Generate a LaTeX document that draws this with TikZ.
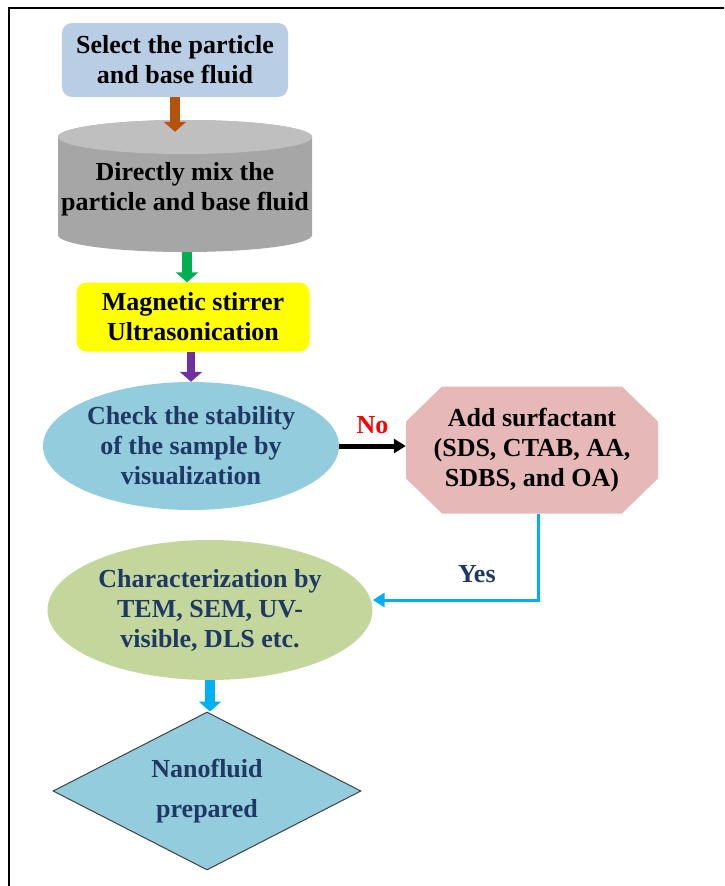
\documentclass[tikz,border=0pt]{standalone}
\usepackage{fontspec}
\setmainfont{Liberation Serif}
\usepackage{xcolor}
\usetikzlibrary{arrows.meta,positioning,shapes.geometric,calc}

\definecolor{selblue}{HTML}{B9CDE5}
\definecolor{cylbody}{HTML}{A6A6A6}
\definecolor{cyltop}{HTML}{BFBFBF}
\definecolor{stiryellow}{HTML}{FFFF00}
\definecolor{checkblue}{HTML}{93CDDD}
\definecolor{surfpink}{HTML}{E6B9B8}
\definecolor{charolive}{HTML}{C3D69B}
\definecolor{navy}{HTML}{1F3864}
\definecolor{arrbrown}{HTML}{B5520E}
\definecolor{arrgreen}{HTML}{00B050}
\definecolor{arrpurple}{HTML}{7030A0}
\definecolor{arrcyan}{HTML}{00B0F0}

\begin{document}
\begin{tikzpicture}[
      x=1pt, y=-1pt,
      every node/.style={font=\bfseries\fontsize{26}{30}\selectfont, align=center, inner sep=0pt},
      box/.style={rounded corners=10pt, minimum width=226pt, minimum height=74pt},
      cyl/.style={minimum width=254pt, minimum height=132pt,
                  path picture={
                    \path (path picture bounding box.north west) ++(0pt,-17pt) coordinate (ctop)
                          (path picture bounding box.south west) ++(0pt,17pt) coordinate (cbot);
                    \fill[cylbody] (ctop) -- (cbot)
                      arc[start angle=180, end angle=360, x radius=127pt, y radius=17pt]
                      -- ++(0pt,98pt)
                      arc[start angle=0, end angle=180, x radius=127pt, y radius=17pt] -- cycle;
                    \fill[cyltop] (ctop) ++(127pt,0pt) ellipse[x radius=127pt, y radius=17pt];
                  }},
      oval/.style={ellipse, text=navy},
      octa/.style={minimum width=252pt, minimum height=127pt,
                   path picture={
                     \fill[surfpink]
                       ($(path picture bounding box.north west)+(36pt,0pt)$) --
                       ($(path picture bounding box.north east)+(-36pt,0pt)$) --
                       ($(path picture bounding box.north east)+(0pt,-35pt)$) --
                       ($(path picture bounding box.south east)+(0pt,35pt)$) --
                       ($(path picture bounding box.south east)+(-36pt,0pt)$) --
                       ($(path picture bounding box.south west)+(36pt,0pt)$) --
                       ($(path picture bounding box.south west)+(0pt,35pt)$) --
                       ($(path picture bounding box.north west)+(0pt,-35pt)$) -- cycle;
                   }},
      lbl/.style={font=\bfseries\fontsize{26}{30}\selectfont},
      blockarrow/.style={line width=10pt, -{Triangle[length=10pt, width=22pt]}},
      thinarrow/.style={line width=#1, -{Triangle[length=12pt, width=14pt]}}
    ]
    \useasboundingbox (0,0) rectangle (724,886);
    \draw[line width=2pt] (9,886) -- (9,8) -- (724,8);

    \node[box, fill=selblue] (sel) at (175,60) {Select the particle\\ and base fluid};
    \node[cyl, text depth=-3pt] (mix) at (185,186) {Directly mix the\\ particle and base fluid};
    \node[box, fill=stiryellow, minimum width=233pt, minimum height=69pt] (stir) at (193,317)
         {Magnetic stirrer\\ Ultrasonication};
    \node[oval, fill=checkblue, minimum width=296pt, minimum height=128pt] (check) at (191,446)
         {Check the stability\\ of the sample by\\ visualization};
    \node[octa] (surf) at (532,450) {Add surfactant\\ (SDS, CTAB, AA,\\ SDBS, and OA)};
    \node[oval, fill=charolive, minimum width=325pt, minimum height=140pt] (char) at (210,610)
         {Characterization by\\ TEM, SEM, UV-\\ visible, DLS etc.};
    \node[diamond, draw=black!75, line width=1pt, fill=checkblue, text=navy, aspect=1.95,
          minimum width=308pt, minimum height=158pt, font=\bfseries\fontsize{26}{40}\selectfont]
         (prep) at (207,791) {Nanofluid\\ prepared};

    \draw[blockarrow, arrbrown] (sel.south) -- ([yshift=-12pt]sel.south |- mix.north);
    \draw[blockarrow, arrgreen] ([xshift=2pt]mix.south) -- ([xshift=2pt]mix.south |- stir.north);
    \draw[blockarrow, arrpurple, line width=8pt] ([xshift=-2pt]stir.south) -- ([xshift=-2pt]stir.south |- check.north);
    \draw[thinarrow=5pt, black] (check.east) -- (check.east -| surf.west) node[lbl, midway, above=10pt, red] {No};
    \draw[thinarrow=3pt, arrcyan] ([xshift=6pt]surf.south) |- ([yshift=10pt]char.east)
         node[lbl, pos=0.685, above=16pt, navy] {Yes};
    \draw[blockarrow, arrcyan] (char.south) -- (char.south |- prep.north);
  \end{tikzpicture}
\end{document}
